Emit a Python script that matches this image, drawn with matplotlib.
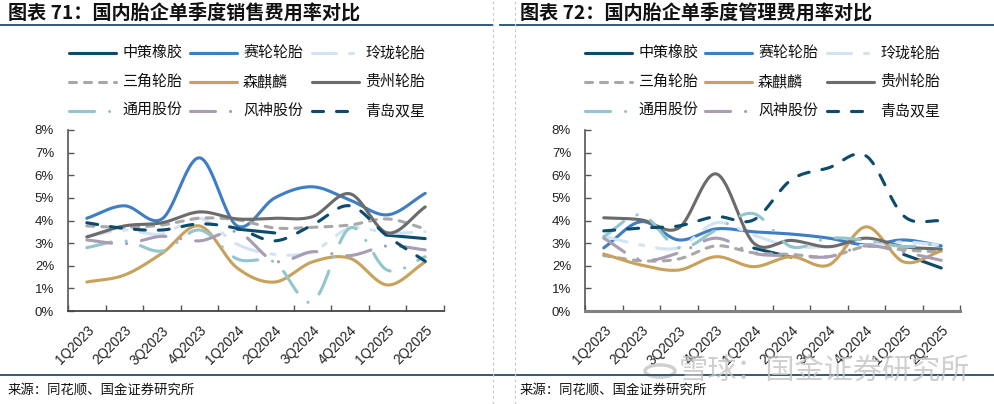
import numpy as np
import matplotlib
matplotlib.use("Agg")
import matplotlib.pyplot as plt
from matplotlib.lines import Line2D
from matplotlib.patches import Circle

plt.rcParams['font.family'] = ['Noto Sans CJK SC', 'DejaVu Sans']
plt.rcParams['lines.scale_dashes'] = False

nan = np.nan
quarters = ["1Q2023", "2Q2023", "3Q2023", "4Q2023", "1Q2024", "2Q2024",
            "3Q2024", "4Q2024", "1Q2025", "2Q2025"]
series_names = ["中策橡胶", "赛轮轮胎", "玲珑轮胎", "三角轮胎", "森麒麟",
                "贵州轮胎", "通用股份", "风神股份", "青岛双星"]

# 销售费用率 (%)
sales_zhongce = [nan, nan, nan, nan, 3.62, 3.45, nan, nan, 3.35, 3.2]
sales_sailun = [4.1, 4.65, 4.07, 6.77, 3.76, 5.0, 5.49, 4.9, 4.25, 5.2]
sales_linglong = [3.3, 3.58, 3.4, 4.1, 2.95, 2.5, 2.62, 3.67, 3.45, 3.5]
sales_sanjiao = [3.76, 3.7, 3.8, 4.1, 4.03, 3.67, 3.7, 3.8, 4.07, 3.63]
sales_senqilin = [1.28, 1.59, 2.55, 3.76, 1.9, 1.28, 2.17, 2.33, 1.15, 2.17]
sales_guizhou = [3.27, 3.76, 3.9, 4.38, 4.07, 4.1, 4.17, 5.18, 3.45, 4.6]
sales_tongyong = [2.8, 3.1, 2.65, 3.58, 2.3, 2.15, 0.4, 3.67, 1.8, 2.4]
sales_fengshen = [3.14, 2.97, 3.3, 3.1, 3.5, 2.2, 2.62, 2.45, 2.88, 2.7]
sales_qingdao = [3.9, 3.65, 3.58, 3.85, 3.65, 3.1, 3.8, 4.65, 3.3, 2.2]

# 管理费用率 (%)
admin_zhongce = [nan, nan, nan, nan, 2.78, 2.38, nan, nan, 2.5, 1.9]
admin_sailun = [2.79, 3.95, 3.14, 3.63, 3.5, 3.4, 3.22, 2.92, 3.14, 2.88]
admin_linglong = [3.3, 2.92, 2.8, 3.9, 3.35, 2.85, 2.85, 2.9, 3.05, 2.9]
admin_sanjiao = [2.45, 2.22, 2.3, 2.88, 2.57, 2.5, 2.4, 2.85, 2.7, 2.6]
admin_senqilin = [2.52, 2.03, 1.81, 2.4, 1.96, 2.4, 2.03, 3.72, 2.17, 2.65]
admin_guizhou = [4.12, 4.03, 3.67, 6.06, 3.0, 3.12, 2.84, 3.22, 2.84, 2.74]
admin_tongyong = [3.29, 4.25, 2.79, 3.58, 4.3, 2.84, 3.22, 3.12, 2.85, 3.0]
admin_fengshen = [3.22, 2.26, 2.57, 3.22, 2.55, 2.45, 2.4, 2.88, 2.6, 2.24]
admin_qingdao = [3.54, 3.67, 3.76, 4.17, 4.03, 5.8, 6.33, 6.85, 4.2, 3.98]

yticks = [0, 1, 2, 3, 4, 5, 6, 7, 8]
ytick_labels = ["0%", "1%", "2%", "3%", "4%", "5%", "6%", "7%", "8%"]

W, H = 994, 404
PT = 0.72  # px -> pt at dpi 100
LW = 3.1 * PT

styles = [
    dict(color='#0C4B6E', ls='-'),
    dict(color='#3F7EC4', ls='-'),
    dict(color='#D2E4F4', ls=(0, (24 * PT, 13 * PT, 4 * PT, 13 * PT))),
    dict(color='#A8A8A8', ls=(0, (7 * PT, 8 * PT))),
    dict(color='#C8A25C', ls='-'),
    dict(color='#6B6B6B', ls='-'),
    dict(color='#93C6CC', ls=(0, (25 * PT, 15 * PT, 0.1, 15 * PT))),
    dict(color='#A99DB3', ls=(0, (25 * PT, 15 * PT, 0.1, 15 * PT))),
    dict(color='#0C4B6E', ls=(0, (11 * PT, 13 * PT))),
]


def catmull_rom(xs, ys, n=30):
    xs = np.asarray(xs, float)
    ys = np.asarray(ys, float)
    if len(xs) <= 2:
        return xs, ys
    px = np.concatenate([[2 * xs[0] - xs[1]], xs, [2 * xs[-1] - xs[-2]]])
    py = np.concatenate([[2 * ys[0] - ys[1]], ys, [2 * ys[-1] - ys[-2]]])
    outx, outy = [], []
    for i in range(1, len(px) - 2):
        p0x, p1x, p2x, p3x = px[i - 1:i + 3]
        p0y, p1y, p2y, p3y = py[i - 1:i + 3]
        c1x, c1y = p1x + (p2x - p0x) / 6, p1y + (p2y - p0y) / 6
        c2x, c2y = p2x - (p3x - p1x) / 6, p2y - (p3y - p1y) / 6
        t = np.linspace(0, 1, n, endpoint=(i == len(px) - 3))
        bx = (1 - t) ** 3 * p1x + 3 * (1 - t) ** 2 * t * c1x + 3 * (1 - t) * t ** 2 * c2x + t ** 3 * p2x
        by = (1 - t) ** 3 * p1y + 3 * (1 - t) ** 2 * t * c1y + 3 * (1 - t) * t ** 2 * c2y + t ** 3 * p2y
        outx.append(bx)
        outy.append(by)
    return np.concatenate(outx), np.concatenate(outy)


def draw_series(ax, vals, st):
    vals = np.asarray(vals, float)
    x = np.arange(len(vals))
    ok = ~np.isnan(vals)
    runs = []
    cur = []
    for i in range(len(vals)):
        if ok[i]:
            cur.append(i)
        else:
            if cur:
                runs.append(cur)
            cur = []
    if cur:
        runs.append(cur)
    for r in runs:
        sx, sy = catmull_rom(x[r], vals[r])
        ax.plot(sx, sy, color=st['color'], linestyle=st['ls'], lw=LW,
                solid_capstyle='round', dash_capstyle='round', zorder=3)


fig = plt.figure(figsize=(W / 100, H / 100), dpi=100)


def fx(x):
    return x / W


def fy(y):
    return 1 - y / H


panels = [
    dict(x0=68, x1=444, title="图表 71：国内胎企单季度销售费用率对比", tx=8,
         data=[sales_zhongce, sales_sailun, sales_linglong, sales_sanjiao, sales_senqilin,
               sales_guizhou, sales_tongyong, sales_fengshen, sales_qingdao],
         leg=[67, 188, 310], src=8, ul=(0, 492)),
    dict(x0=585, x1=960, title="图表 72：国内胎企单季度管理费用率对比", tx=520,
         data=[admin_zhongce, admin_sailun, admin_linglong, admin_sanjiao, admin_senqilin,
               admin_guizhou, admin_tongyong, admin_fengshen, admin_qingdao],
         leg=[583, 703, 825], src=520, ul=(500, 994)),
]

for pi, p in enumerate(panels):
    ax = fig.add_axes([fx(p['x0']), fy(311), (p['x1'] - p['x0']) / W, (311 - 130) / H])
    for vals, st in zip(p['data'], styles):
        draw_series(ax, vals, st)
    ax.set_xlim(-0.5, len(quarters) - 0.5)
    ax.set_ylim(0, 8)
    ax.set_yticks(yticks)
    ax.set_yticklabels(ytick_labels, fontfamily='Liberation Sans', fontsize=9.5, color='#222222')
    ax.set_xticks(np.arange(len(quarters) + 1) - 0.5)
    ax.set_xticklabels([])
    ax.set_xticks(np.arange(len(quarters)), minor=True)
    ax.set_xticklabels(quarters, minor=True, rotation=45, ha='right', va='top',
                       rotation_mode='anchor', fontfamily='Liberation Sans', fontsize=9.8,
                       color='#222222')
    ax.tick_params(axis='x', which='minor', length=0, pad=9)
    ax.tick_params(axis='x', which='major', direction='in', length=4, color='#555555', width=1)
    ax.tick_params(axis='y', direction='in', length=4, pad=10, color='#555555', width=1)
    for s in ['top', 'right']:
        ax.spines[s].set_visible(False)
    ax.spines['left'].set_color('#555555')
    ax.spines['left'].set_linewidth(1.2)
    if pi == 0:
        ax.spines['bottom'].set_color('#444444')
        ax.spines['bottom'].set_linewidth(1.3)
    else:
        ax.spines['bottom'].set_color('#808080')
        ax.spines['bottom'].set_linewidth(2.2)
    ax.set_facecolor('none')

    # title
    fig.text(fx(p['tx']), fy(13), p['title'], fontsize=13.8, fontweight='bold',
             ha='left', va='center', color='#111111')
    # underline
    fig.add_artist(Line2D([fx(p['ul'][0]), fx(p['ul'][1])], [fy(25), fy(25)],
                          transform=fig.transFigure, color='#1F4E6E', lw=1.3))
    # legend
    rows = [53, 82, 111]
    for k, (name, st) in enumerate(zip(series_names, styles)):
        r, c = divmod(k, 3)
        hx = p['leg'][c]
        yy = rows[r]
        fig.add_artist(Line2D([fx(hx + 1.5), fx(hx + 48.5)], [fy(yy), fy(yy)],
                              transform=fig.transFigure, color=st['color'],
                              linestyle=st['ls'], lw=LW, solid_capstyle='round',
                              dash_capstyle='round'))
        fig.text(fx(hx + 55), fy(yy), name, fontsize=10.8, ha='left', va='center',
                 color='#111111')
    # source
    fig.text(fx(p['src']), fy(390), "来源：同花顺、国金证券研究所", fontsize=9.6,
             ha='left', va='center', color='#111111')

# bottom rule
fig.add_artist(Line2D([0, 1], [fy(375), fy(375)], transform=fig.transFigure,
                      color='#1F4E6E', lw=1.3))
# vertical dotted separators
for xv in [493, 515]:
    fig.add_artist(Line2D([fx(xv), fx(xv)], [0, 1], transform=fig.transFigure,
                          color='#C8C8C8', lw=0.8, linestyle=(0, (2, 2))))

# watermark
fig.text(fx(824), fy(371), "雪球：国金证券研究所", fontsize=21, ha='center', va='center',
         color='#C4C4C4', alpha=0.8, zorder=10)
fig.add_artist(Circle((fx(660), fy(371)), 15 / W, transform=fig.transFigure,
                      fill=False, ec='#C4C4C4', lw=2.5, alpha=0.8))

fig.savefig("out.png", dpi=100)
